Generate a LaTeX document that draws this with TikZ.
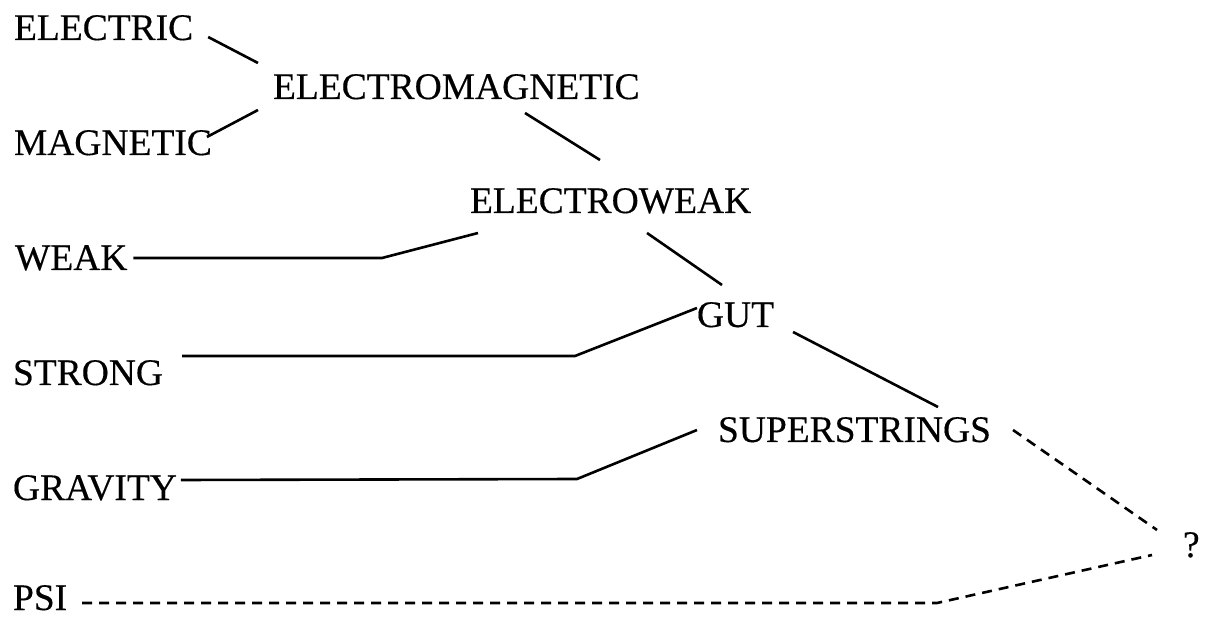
\documentclass[tikz,border=0pt]{standalone}
\usepackage{fontspec}
\setmainfont{Liberation Serif}[UprightFeatures={FakeBold=0.35}]
\begin{document}
\begin{tikzpicture}[x=1pt,y=-1pt,
  lbl/.style={anchor=base west,inner sep=0pt,outer sep=0pt,font=\fontsize{37.5}{45}\selectfont},
  conn/.style={line width=2.6pt,line join=round},
  dconn/.style={line width=2.6pt,dash pattern=on 10pt off 7pt}]
\useasboundingbox[fill=white] (0,0) rectangle (1205,617);
\node[lbl] (electric) at (14,40) {ELECTRIC};
\node[lbl] (em) at (273,99) {ELECTROMAGNETIC};
\node[lbl] (magnetic) at (14,155) {MAGNETIC};
\node[lbl] (ew) at (470,213) {ELECTROWEAK};
\node[lbl] (weak) at (15,270) {WEAK};
\node[lbl] (gut) at (697,327) {GUT};
\node[lbl] (strong) at (13,385) {STRONG};
\node[lbl] (ss) at (718,442) {SUPERSTRINGS};
\node[lbl] (gravity) at (13,500) {GRAVITY};
\node[lbl] (q) at (1183,557) {?};
\node[lbl] (psi) at (13,610) {PSI};
% connectors
\draw[conn] ([shift={(15,-3)}]electric.base east) -- ([shift={(-15,-36)}]em.base west);
\draw[conn] ([shift={(-5,-18)}]magnetic.base east) -- ([shift={(-15,11)}]em.base west);
\draw[conn] ([shift={(252,14)}]em.base west) -- ([shift={(130,-53)}]ew.base west);
\coordinate (wb) at (382,258);
\draw[conn] ([shift={(6,-12)}]weak.base east) -- (wb) -- ([shift={(8,20)}]ew.base west);
\draw[conn] ([shift={(177,20)}]ew.base west) -- ([shift={(25,-42)}]gut.base west);
\coordinate (sb) at (575,356);
\draw[conn] ([shift={(19,-29)}]strong.base east) -- (sb) -- ([shift={(0,-19)}]gut.base west);
\draw[conn] ([shift={(19,5)}]gut.base east) -- ([shift={(220,-35)}]ss.base west);
\coordinate (gb) at (577,479);
\draw[conn] ([shift={(4,-20)}]gravity.base east) -- (gb) -- ([shift={(-21,-12)}]ss.base west);
\draw[dconn] ([shift={(22,-12)}]ss.base east) -- ([shift={(-26,-27)}]q.base west);
\coordinate (pb) at (937,603);
\draw[dconn] ([shift={(15,-7)}]psi.base east) -- (pb) -- ([shift={(-31,-2)}]q.base west);
\end{tikzpicture}
\end{document}
